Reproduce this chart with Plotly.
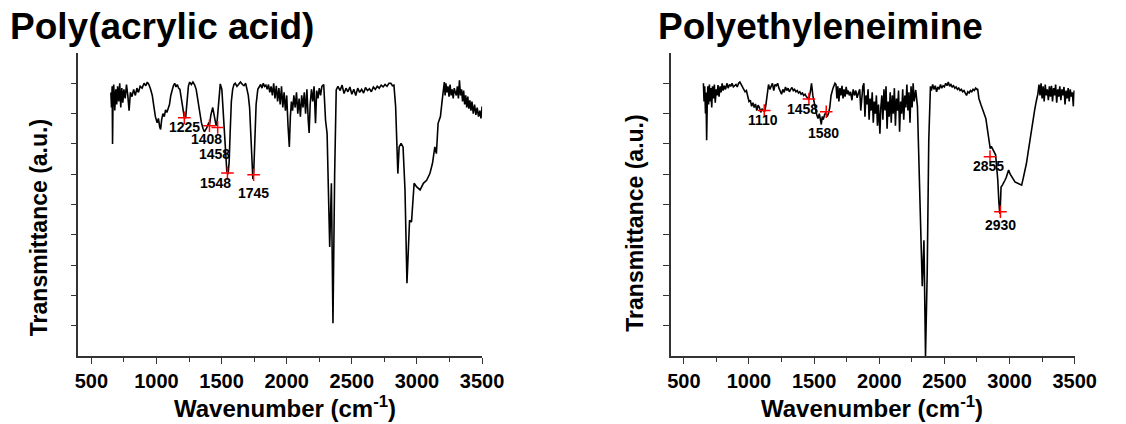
import plotly.graph_objects as go

# ---------------- data ----------------
paa_wavenumber = [
    650, 655, 660, 663, 667, 672, 680, 688, 695, 702, 710, 718, 726, 734, 742, 750, 760, 770, 780, 790,
    800, 812, 825, 838, 850, 862, 875, 890, 905, 918, 930, 942, 955, 968, 980, 992, 1005, 1015, 1025, 1032,
    1040, 1050, 1060, 1070, 1080, 1090, 1100, 1110, 1120, 1130, 1140, 1150, 1160, 1170, 1180, 1192, 1205, 1215, 1225, 1235,
    1245, 1255, 1268, 1280, 1292, 1305, 1318, 1330, 1345, 1358, 1368, 1385, 1400, 1408, 1418, 1432, 1445, 1458, 1466, 1478,
    1490, 1502, 1510, 1520, 1530, 1540, 1550, 1558, 1566, 1575, 1585, 1595, 1605, 1618, 1630, 1645, 1660, 1672, 1685, 1695,
    1705, 1715, 1725, 1733, 1740, 1747, 1755, 1765, 1778, 1790, 1800, 1810, 1820, 1830, 1840, 1850, 1860, 1870, 1880, 1890,
    1900, 1910, 1920, 1930, 1940, 1950, 1960, 1970, 1980, 1990, 2000, 2010, 2020, 2028, 2036, 2045, 2055, 2065, 2075, 2085,
    2095, 2105, 2115, 2125, 2135, 2145, 2155, 2165, 2172, 2180, 2190, 2200, 2210, 2221, 2230, 2240, 2250, 2260, 2270, 2284,
    2298, 2310, 2325, 2330, 2343, 2355, 2368, 2380, 2393, 2410, 2425, 2440, 2455, 2470, 2485, 2500, 2515, 2530, 2545, 2560,
    2575, 2590, 2605, 2620, 2635, 2650, 2665, 2680, 2695, 2710, 2725, 2740, 2755, 2770, 2785, 2799, 2812, 2823, 2836, 2848,
    2853, 2863, 2878, 2893, 2908, 2923, 2933, 2943, 2958, 2968, 2978, 2998, 3024, 3049, 3074, 3099, 3119, 3137, 3149, 3162,
    3180, 3194, 3203, 3210, 3216, 3222, 3230, 3238, 3246, 3254, 3262, 3270, 3278, 3286, 3294, 3302, 3310, 3318, 3326, 3334,
    3342, 3350, 3358, 3366, 3374, 3382, 3390, 3398, 3406, 3414, 3422, 3432, 3442, 3452, 3462, 3472, 3482, 3491, 3500,
]
paa_transmittance = [
    4.35, 4.10, 4.45, 3.50, 4.30, 4.48, 4.05, 4.40, 4.15, 4.45, 4.20, 4.50, 4.10, 4.42, 4.18, 4.40, 4.25, 4.48, 4.30, 4.05,
    4.35, 4.28, 4.40, 4.30, 4.42, 4.35, 4.45, 4.42, 4.50, 4.46, 4.52, 4.48, 4.40, 4.30, 4.12, 3.95, 3.85, 3.92, 3.78, 3.74,
    3.90, 4.00, 3.95, 4.06, 4.02, 4.10, 4.15, 4.30, 4.40, 4.46, 4.50, 4.44, 4.48, 4.42, 4.40, 4.25, 4.05, 3.92, 3.95, 4.20,
    4.45, 4.52, 4.48, 4.52, 4.48, 4.40, 4.20, 4.00, 3.85, 3.75, 3.70, 3.76, 3.84, 3.82, 3.98, 4.10, 3.95, 3.80, 3.88, 4.20,
    4.49, 4.40, 4.10, 3.70, 3.30, 3.05, 3.00, 3.20, 3.70, 4.20, 4.40, 4.48, 4.50, 4.45, 4.48, 4.52, 4.48, 4.46, 4.50, 4.42,
    4.30, 4.10, 3.70, 3.25, 2.92, 3.05, 3.60, 4.15, 4.40, 4.45, 4.48, 4.42, 4.50, 4.45, 4.47, 4.40, 4.48, 4.35, 4.45, 4.30,
    4.50, 4.25, 4.46, 4.20, 4.42, 4.15, 4.45, 4.10, 4.35, 4.05, 4.30, 3.80, 3.45, 3.95, 4.20, 4.05, 4.30, 4.10, 4.35, 4.00,
    4.25, 3.95, 4.30, 4.10, 4.35, 4.00, 4.40, 3.90, 3.68, 4.15, 4.40, 4.20, 4.45, 3.84, 4.38, 4.25, 4.42, 4.30, 4.45, 4.48,
    3.89, 3.67, 2.46, 1.80, 2.85, 0.54, 3.01, 4.39, 4.45, 4.38, 4.47, 4.33, 4.42, 4.36, 4.44, 4.32, 4.40, 4.30, 4.42, 4.35,
    4.40, 4.34, 4.43, 4.38, 4.41, 4.36, 4.44, 4.40, 4.45, 4.42, 4.47, 4.44, 4.48, 4.45, 4.50, 4.50, 4.46, 4.47, 4.12, 3.29,
    3.01, 3.45, 3.51, 3.45, 2.74, 1.20, 1.80, 2.24, 2.21, 2.56, 2.85, 2.79, 2.74, 2.85, 2.90, 3.01, 3.18, 3.45, 3.34, 3.84,
    3.95, 4.23, 4.37, 4.52, 4.30, 4.50, 4.35, 4.45, 4.28, 4.48, 4.30, 4.40, 4.25, 4.42, 4.35, 4.30, 4.45, 4.25, 4.55, 4.30,
    4.40, 4.20, 4.38, 4.15, 4.30, 4.10, 4.28, 4.08, 4.22, 4.05, 4.20, 4.00, 4.15, 3.98, 4.10, 3.95, 4.05, 3.92, 4.12,
]

pei_wavenumber = [
    650, 655, 660, 666, 670, 675, 679, 684, 690, 696, 702, 708, 714, 720, 727, 734, 741, 748, 755, 762,
    770, 778, 786, 794, 802, 810, 820, 830, 840, 850, 860, 870, 880, 890, 900, 910, 920, 930, 940, 950,
    960, 970, 980, 990, 1000, 1010, 1020, 1030, 1040, 1050, 1060, 1070, 1080, 1090, 1100, 1110, 1120, 1130, 1140, 1150,
    1160, 1170, 1180, 1190, 1200, 1210, 1220, 1230, 1240, 1250, 1260, 1270, 1280, 1290, 1300, 1310, 1320, 1330, 1340, 1350,
    1360, 1370, 1380, 1390, 1400, 1410, 1420, 1430, 1440, 1450, 1460, 1470, 1480, 1490, 1500, 1510, 1520, 1530, 1540, 1550,
    1555, 1562, 1570, 1580, 1590, 1600, 1610, 1620, 1630, 1645, 1660, 1668, 1675, 1682, 1690, 1698, 1706, 1714, 1722, 1730,
    1738, 1746, 1754, 1762, 1770, 1780, 1790, 1800, 1810, 1820, 1830, 1840, 1850, 1858, 1866, 1874, 1882, 1890, 1898, 1906,
    1914, 1922, 1930, 1938, 1946, 1954, 1962, 1970, 1978, 1986, 1994, 2005, 2012, 2020, 2028, 2036, 2044, 2052, 2060, 2068,
    2076, 2084, 2092, 2100, 2108, 2116, 2124, 2132, 2140, 2148, 2156, 2164, 2172, 2180, 2188, 2196, 2204, 2212, 2220, 2228,
    2236, 2244, 2252, 2260, 2268, 2280, 2293, 2305, 2318, 2330, 2343, 2350, 2355, 2368, 2380, 2393, 2400, 2410, 2420, 2430,
    2440, 2450, 2460, 2470, 2480, 2490, 2500, 2510, 2520, 2530, 2540, 2550, 2560, 2570, 2580, 2590, 2600, 2610, 2620, 2630,
    2640, 2650, 2660, 2670, 2680, 2690, 2700, 2710, 2720, 2730, 2740, 2750, 2755, 2765, 2780, 2800, 2818, 2835, 2845, 2852,
    2860, 2870, 2880, 2893, 2902, 2910, 2918, 2925, 2930, 2935, 2945, 2955, 2965, 2975, 2985, 2993, 3005, 3018, 3030, 3043,
    3055, 3068, 3080, 3093, 3105, 3118, 3130, 3142, 3155, 3168, 3180, 3193, 3205, 3218, 3226, 3234, 3242, 3250, 3258, 3266,
    3274, 3282, 3290, 3298, 3306, 3314, 3322, 3330, 3338, 3346, 3354, 3362, 3370, 3378, 3386, 3394, 3402, 3410, 3418, 3426,
    3434, 3442, 3450, 3458, 3466, 3474, 3482, 3490, 3496,
]
pei_transmittance = [
    4.50, 4.20, 4.45, 4.00, 4.35, 3.56, 4.10, 4.45, 4.15, 4.48, 4.20, 4.42, 4.10, 4.45, 4.25, 4.48, 4.18, 4.40, 4.30, 4.47,
    4.28, 4.45, 4.35, 4.50, 4.38, 4.46, 4.40, 4.50, 4.42, 4.48, 4.45, 4.50, 4.44, 4.46, 4.48, 4.44, 4.50, 4.52, 4.48, 4.45,
    4.40, 4.36, 4.38, 4.30, 4.20, 4.22, 4.12, 4.18, 4.10, 4.16, 4.05, 4.14, 4.10, 4.02, 4.08, 4.05, 4.03, 4.15, 4.35, 4.48,
    4.40, 4.45, 4.50, 4.38, 4.48, 4.46, 4.50, 4.42, 4.38, 4.32, 4.40, 4.35, 4.44, 4.38, 4.42, 4.36, 4.40, 4.43, 4.38, 4.40,
    4.36, 4.38, 4.34, 4.36, 4.32, 4.34, 4.30, 4.32, 4.28, 4.26, 4.24, 4.35, 4.50, 4.30, 4.15, 4.08, 3.98, 3.92, 4.00, 3.87,
    3.82, 3.95, 3.90, 3.98, 4.02, 3.95, 4.00, 4.10, 4.30, 4.42, 4.50, 4.48, 4.25, 4.45, 4.20, 4.42, 4.30, 4.46, 4.25, 4.40,
    4.28, 4.44, 4.32, 4.38, 4.30, 4.36, 4.22, 4.40, 4.30, 4.38, 4.26, 4.34, 4.40, 4.05, 4.35, 4.45, 4.50, 3.95, 4.30, 4.15,
    4.40, 3.90, 4.25, 4.05, 4.35, 3.85, 4.20, 4.00, 4.30, 3.80, 4.15, 3.67, 4.10, 4.30, 3.90, 4.40, 4.05, 4.45, 3.75, 4.20,
    3.95, 4.35, 3.85, 4.30, 4.00, 4.42, 3.80, 4.25, 4.05, 4.38, 3.70, 4.20, 4.00, 4.40, 3.90, 4.30, 4.10, 4.48, 4.05, 4.35,
    3.85, 4.45, 4.10, 4.50, 4.20, 4.39, 4.12, 3.20, 1.91, 1.15, 1.91, 0.54, 0.00, 1.37, 3.56, 4.45, 4.38, 4.48, 4.40, 4.46,
    4.36, 4.44, 4.40, 4.48, 4.42, 4.46, 4.44, 4.50, 4.46, 4.52, 4.45, 4.48, 4.44, 4.46, 4.42, 4.44, 4.40, 4.42, 4.38, 4.40,
    4.36, 4.38, 4.34, 4.30, 4.36, 4.34, 4.38, 4.36, 4.40, 4.38, 4.42, 4.40, 4.41, 4.25, 4.15, 4.02, 3.92, 3.67, 3.45, 3.42,
    3.46, 3.42, 3.37, 3.32, 3.10, 2.90, 2.55, 2.35, 2.50, 2.79, 2.82, 2.85, 2.90, 2.95, 3.02, 3.07, 3.00, 2.96, 2.92, 2.87,
    2.86, 2.85, 2.83, 2.82, 2.93, 3.05, 3.18, 3.35, 3.55, 3.67, 3.85, 4.06, 4.20, 4.33, 4.48, 4.30, 4.50, 4.25, 4.45, 4.20,
    4.48, 4.30, 4.40, 4.22, 4.45, 4.28, 4.46, 4.20, 4.42, 4.30, 4.48, 4.18, 4.40, 4.28, 4.45, 4.22, 4.40, 4.30, 4.44, 4.15,
    4.38, 4.25, 4.42, 4.20, 4.40, 4.28, 4.35, 4.12, 4.38,
]

paa_peak_labels = ["1225", "1408", "1458", "1548", "1745"]
paa_peak_wavenumber = [1214, 1407, 1470, 1545, 1746]
paa_peak_transmittance = [3.93, 3.80, 3.77, 3.02, 2.99]

pei_peak_labels = ["1110", "1458", "1580", "2855", "2930"]
pei_peak_wavenumber = [1117, 1460, 1593, 2850, 2930]
pei_peak_transmittance = [4.05, 4.24, 4.03, 3.29, 2.38]

panel_titles = ["Poly(acrylic acid)", "Polyethyleneimine"]
x_tick_values = [500, 1000, 1500, 2000, 2500, 3000, 3500]
x_title = "Wavenumber (cm<sup>-1</sup>)"
y_title = "Transmittance (a.u.)"

# ---------------- styling / layout helpers ----------------
W, H = 1126, 424
FONT = "Liberation Sans, Arial, sans-serif"

def px(xp):
    return xp / W

def py(yp):
    return 1 - yp / H

paa_label_offsets = [(0, -9), (-3, -13), (-3, -26), (-12, -10), (0, -18)]
pei_label_offsets = [(-1, -9), (-6, -10), (-3, -21), (-1, -9), (0, -13)]

fig = go.Figure()

fig.add_trace(go.Scatter(x=paa_wavenumber, y=paa_transmittance, mode="lines",
                         line=dict(color="black", width=1.6), xaxis="x", yaxis="y",
                         showlegend=False, hoverinfo="skip"))
fig.add_trace(go.Scatter(x=pei_wavenumber, y=pei_transmittance, mode="lines",
                         line=dict(color="black", width=1.6), xaxis="x2", yaxis="y2",
                         showlegend=False, hoverinfo="skip"))

fig.add_trace(go.Scatter(x=paa_peak_wavenumber, y=paa_peak_transmittance, mode="markers",
                         marker=dict(symbol="cross-thin", size=9, line=dict(color="red", width=1.5)),
                         xaxis="x", yaxis="y", showlegend=False, hoverinfo="skip"))
fig.add_trace(go.Scatter(x=pei_peak_wavenumber, y=pei_peak_transmittance, mode="markers",
                         marker=dict(symbol="cross-thin", size=9, line=dict(color="red", width=1.5)),
                         xaxis="x2", yaxis="y2", showlegend=False, hoverinfo="skip"))

annotations = []
for lab, xv, yv, (dx, dy) in zip(paa_peak_labels, paa_peak_wavenumber, paa_peak_transmittance, paa_label_offsets):
    annotations.append(dict(x=xv, y=yv, xref="x", yref="y", text=lab, showarrow=False,
                            xshift=dx, yshift=dy, yanchor="middle", xanchor="center",
                            font=dict(family=FONT, size=14, color="black", weight="bold")))
for lab, xv, yv, (dx, dy) in zip(pei_peak_labels, pei_peak_wavenumber, pei_peak_transmittance, pei_label_offsets):
    annotations.append(dict(x=xv, y=yv, xref="x2", yref="y2", text=lab, showarrow=False,
                            xshift=dx, yshift=dy, yanchor="middle", xanchor="center",
                            font=dict(family=FONT, size=14, color="black", weight="bold")))

# panel titles
for txt, xl in zip(panel_titles, [5, 668]):
    annotations.append(dict(x=px(xl), y=py(27), xref="paper", yref="paper", text=txt, showarrow=False,
                            xanchor="left", yanchor="middle",
                            font=dict(family=FONT, size=37, color="black", weight="bold")))
# axis titles
for xc in [288, 889]:
    annotations.append(dict(x=px(xc), y=py(407), xref="paper", yref="paper", text=x_title, showarrow=False,
                            xanchor="center", yanchor="middle",
                            font=dict(family=FONT, size=24, color="black", weight="bold")))
for xc, yc in [(37, 228), (646, 223)]:
    annotations.append(dict(x=px(xc), y=py(yc), xref="paper", yref="paper", text=y_title, showarrow=False,
                            textangle=-90, xanchor="center", yanchor="middle",
                            font=dict(family=FONT, size=23, color="black", weight="bold")))

xaxis_common = dict(range=[400, 3500], tickmode="array", tickvals=x_tick_values,
                    ticks="outside", ticklen=6, tickwidth=1.3, tickcolor="#333",
                    showline=True, linecolor="#333", linewidth=1.5, showgrid=False, zeroline=False,
                    tickfont=dict(family=FONT, size=20, color="black", weight="bold"),
                    minor=dict(tickmode="array", tickvals=[750, 1250, 1750, 2250, 2750, 3250],
                               ticks="outside", ticklen=4, tickwidth=1.2, tickcolor="#333", showgrid=False),
                    fixedrange=True)
yaxis_common = dict(range=[0, 5], tickmode="array", tickvals=[0.5, 1.5, 2.5, 3.5, 4.5],
                    showticklabels=False, ticks="outside", ticklen=6, tickwidth=1.3, tickcolor="#333",
                    showline=True, linecolor="#333", linewidth=1.5, showgrid=False, zeroline=False,
                    minor=dict(tickmode="array", tickvals=[1, 2, 3, 4],
                               ticks="outside", ticklen=6, tickwidth=1.2, tickcolor="#333", showgrid=False),
                    fixedrange=True)

ydom = [py(356), py(53)]
fig.update_layout(
    width=W, height=H, autosize=False,
    margin=dict(l=0, r=0, t=0, b=0),
    paper_bgcolor="white", plot_bgcolor="white",
    xaxis=dict(domain=[px(77), px(490)], anchor="y", **xaxis_common),
    yaxis=dict(domain=ydom, anchor="x", **yaxis_common),
    xaxis2=dict(domain=[px(683), px(1096)], anchor="y2", **xaxis_common),
    yaxis2=dict(domain=ydom, anchor="x2", **yaxis_common),
    annotations=annotations,
    showlegend=False,
)

fig.write_html("out.html", config=dict(displayModeBar=False))
